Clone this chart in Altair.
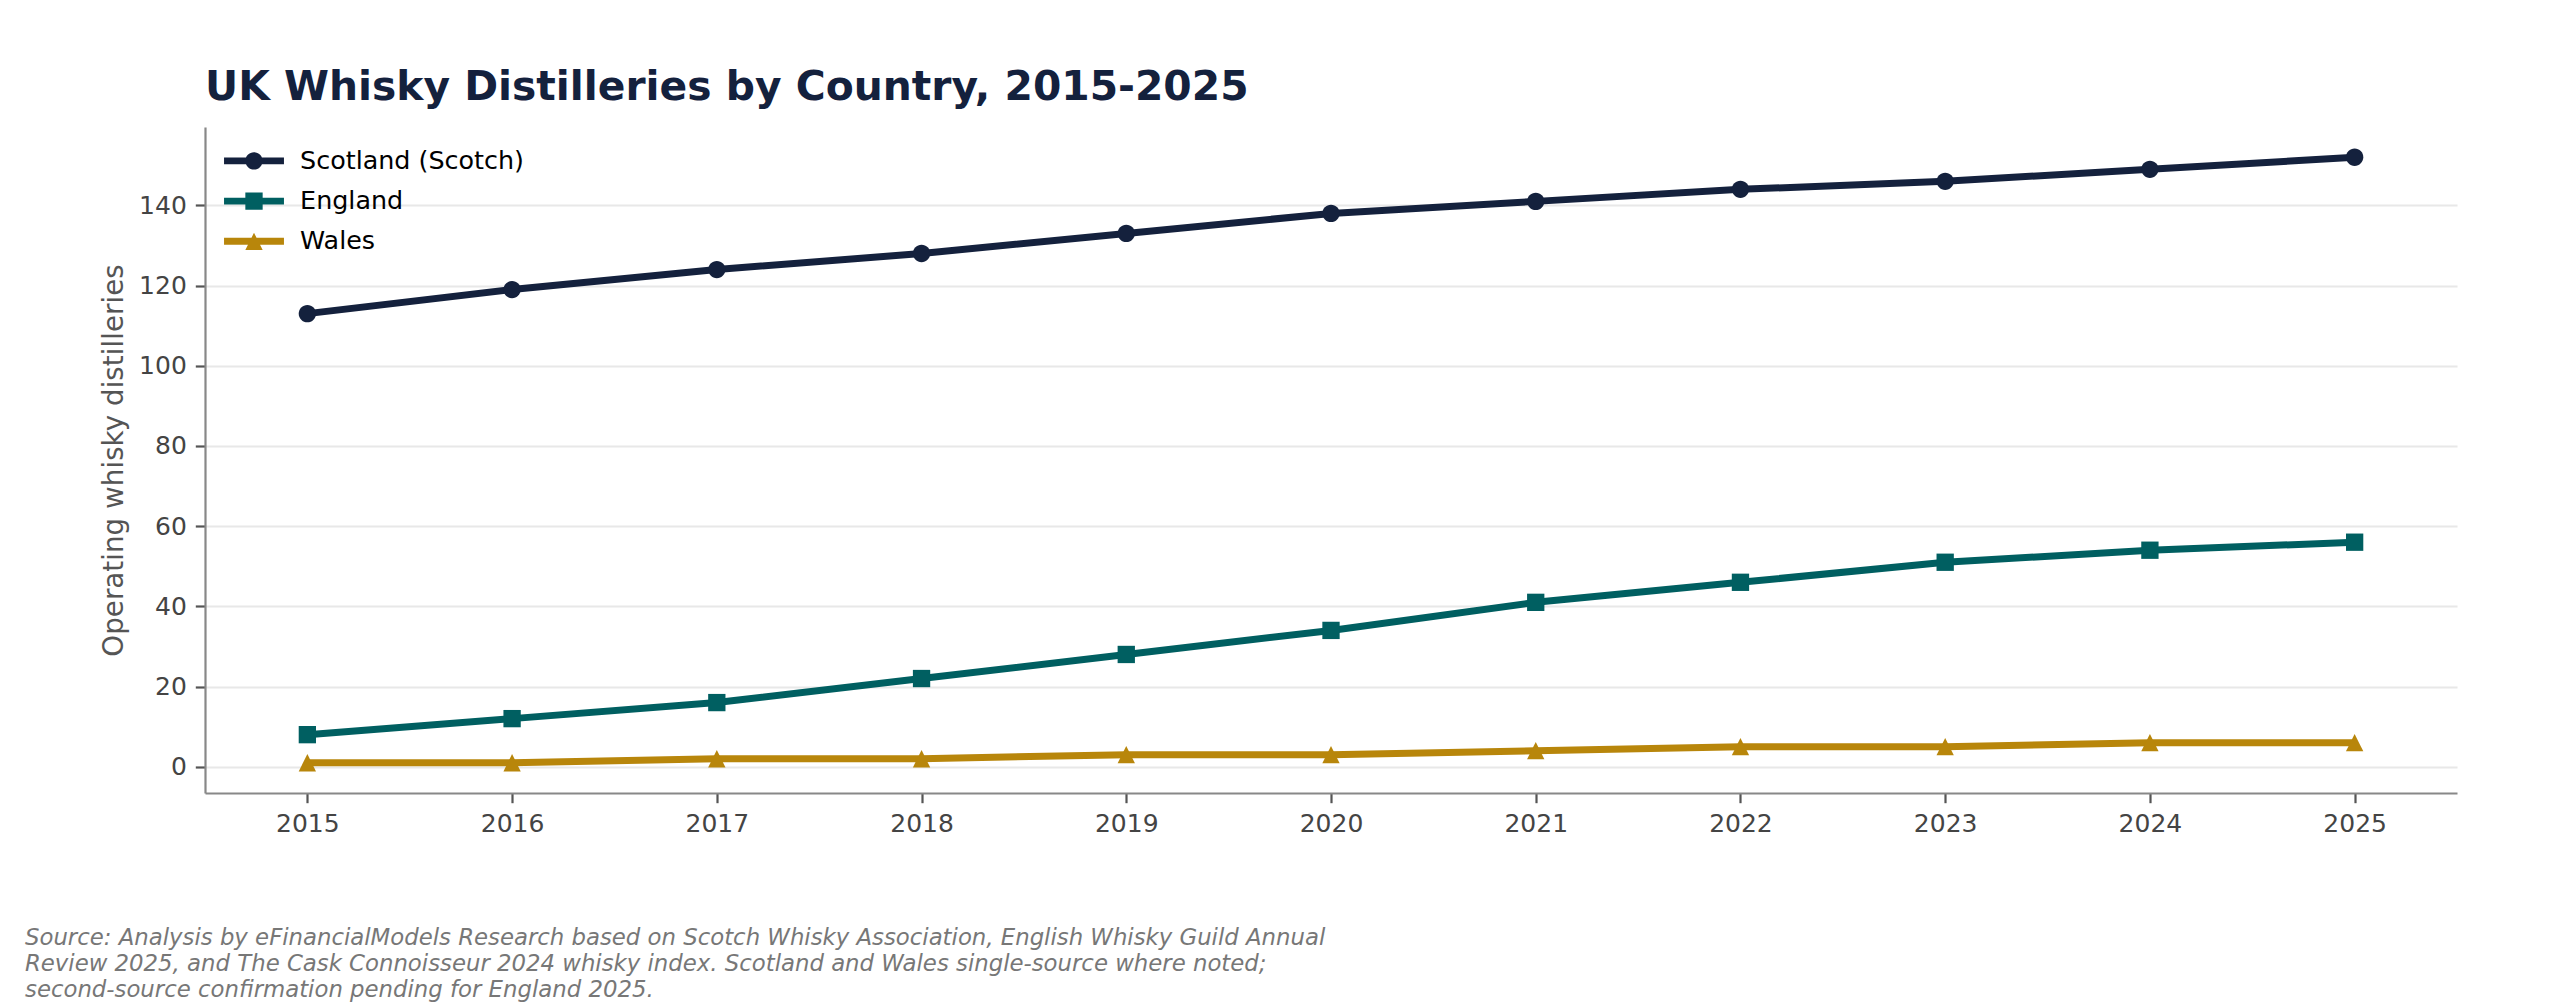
import altair as alt
import pandas as pd

years = [2015, 2016, 2017, 2018, 2019, 2020, 2021, 2022, 2023, 2024, 2025]
scotland = [113, 119, 124, 128, 133, 138, 141, 144, 146, 149, 152]
england = [8, 12, 16, 22, 28, 34, 41, 46, 51, 54, 56]
wales = [1, 1, 2, 2, 3, 3, 4, 5, 5, 6, 6]

countries = ["Scotland (Scotch)", "England", "Wales"]
colors = ["#14213d", "#005f61", "#b8860b"]
y_ticks = [0, 20, 40, 60, 80, 100, 120, 140]

title_text = "UK Whisky Distilleries by Country, 2015-2025"
y_title = "Operating whisky distilleries"
source_lines = [
    "Source: Analysis by eFinancialModels Research based on Scotch Whisky Association, English Whisky Guild Annual",
    "Review 2025, and The Cask Connoisseur 2024 whisky index. Scotland and Wales single-source where noted;",
    "second-source confirmation pending for England 2025.",
]

rows = []
for name, vals in zip(countries, [scotland, england, wales]):
    for yr, v in zip(years, vals):
        rows.append({"year": yr, "value": v, "country": name})
df = pd.DataFrame(rows)

FONT = "DejaVu Sans"
MARK_SIZE = 300

# marker shapes (unit box -1..1), all drawn clockwise
circle = "M1,0A1,1,0,1,1,-1,0A1,1,0,1,1,1,0Z"
square = "M-1,-1H1V1H-1Z"
triangle = "M0,-1L1,1L-1,1Z"
bar = "M-3.46,-0.4H3.46V0.4H-3.46Z "
legend_shapes = [bar + circle, bar + square, bar + triangle]

x_enc = alt.X(
    "year:Q",
    scale=alt.Scale(domain=[2014.5, 2025.5], nice=False, zero=False),
    axis=alt.Axis(values=years, format="d", grid=False, title=None),
)
y_enc = alt.Y(
    "value:Q",
    scale=alt.Scale(domain=[-6.55, 159.55], nice=False, zero=False),
    axis=alt.Axis(values=y_ticks, grid=True, title=y_title),
)
color_plain = alt.Color(
    "country:N", scale=alt.Scale(domain=countries, range=colors), legend=None
)

lines = alt.Chart(df).mark_line(strokeWidth=7, strokeJoin="round").encode(
    x=x_enc, y=y_enc, color=color_plain, detail="country:N"
)

points = alt.Chart(df).mark_point(
    filled=True, size=MARK_SIZE, opacity=1, strokeWidth=0
).encode(
    x=x_enc,
    y=y_enc,
    color=color_plain,
    shape=alt.Shape(
        "country:N",
        scale=alt.Scale(domain=countries, range=[circle, square, triangle]),
        legend=None,
    ),
)

legend_props = dict(
    orient="none",
    legendX=36.3,
    legendY=21.2,
    title=None,
    padding=0,
    symbolSize=MARK_SIZE,
    symbolStrokeWidth=0,
    labelFont=FONT,
    labelFontSize=25.4,
    labelColor="#000000",
    labelOffset=33.4,
    labelLimit=600,
    rowPadding=13.2,
)

legend_layer = (
    alt.Chart(df)
    .transform_filter("false")
    .mark_point(filled=True, size=MARK_SIZE, opacity=1, strokeWidth=0)
    .encode(
        color=alt.Color(
            "country:N",
            scale=alt.Scale(domain=countries, range=colors),
            legend=alt.Legend(**legend_props),
        ),
        shape=alt.Shape(
            "country:N",
            scale=alt.Scale(domain=countries, range=legend_shapes),
            legend=alt.Legend(**legend_props),
        ),
    )
)

source = alt.Chart(pd.DataFrame({"note": [0]})).mark_text(
    text=source_lines,
    font=FONT,
    fontSize=22.8,
    fontStyle="italic",
    color="#777777",
    align="left",
    baseline="alphabetic",
    lineHeight=26.2,
).encode(x=alt.value(25 - 205), y=alt.value(945 - 127))

chart = (
    alt.layer(lines, points, legend_layer, source)
    .resolve_scale(color="independent", shape="independent")
    .properties(
        width=2252,
        height=666,
        title=alt.Title(
            title_text,
            anchor="start",
            frame="group",
            font=FONT,
            fontSize=40.8,
            fontWeight="bold",
            color="#14213d",
            baseline="alphabetic",
            offset=30,
            dy=44,
        ),
        autosize=alt.AutoSizeParams(type="none"),
        padding={"left": 197, "top": 119, "right": 90, "bottom": 211},
    )
    .configure_view(strokeWidth=0)
    .configure_axis(
        labelFont=FONT,
        labelFontSize=25,
        labelColor="#444444",
        labelPadding=9,
        domainColor="#888888",
        domainWidth=2.2,
        tickColor="#555555",
        tickWidth=2.2,
        tickSize=9.7,
        titleFont=FONT,
        titleFontSize=27.8,
        titleFontWeight="normal",
        titleColor="#555555",
        titlePadding=10,
        gridColor="#e8e8e8",
        gridWidth=2.2,
    )
)

chart.save("out.html", embed_options={"renderer": "svg", "actions": False})
